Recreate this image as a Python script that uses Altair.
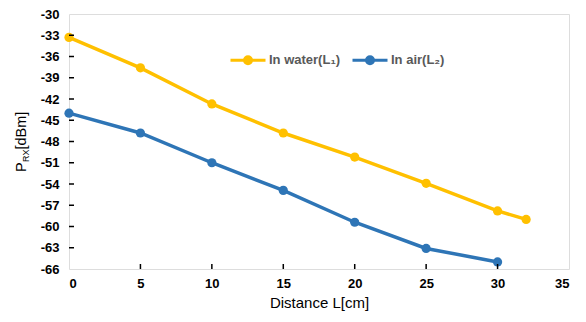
import altair as alt
import pandas as pd

distance_water = [0, 5, 10, 15, 20, 25, 30, 32]
water = [-33.3, -37.6, -42.7, -46.8, -50.2, -53.9, -57.8, -59.0]
distance_air = [0, 5, 10, 15, 20, 25, 30]
air = [-44.0, -46.8, -51.0, -54.9, -59.4, -63.1, -65.0]
series_names = ["In water(L\u2081)", "In air(L\u2082)"]
colors = ["#FFC000", "#2E75B6"]
x_ticks = [0, 5, 10, 15, 20, 25, 30, 35]
y_ticks = list(range(-66, -29, 3))

rows = []
for d, v in zip(distance_water, water):
    rows.append({"d": d, "v": v, "s": series_names[0]})
for d, v in zip(distance_air, air):
    rows.append({"d": d, "v": v, "s": series_names[1]})
df = pd.DataFrame(rows)

W, H = 500, 255
font = "Liberation Sans"

xs = alt.Scale(domain=[0, 35], nice=False, zero=False)
ys = alt.Scale(domain=[-66, -30], nice=False, zero=False)
cs = alt.Scale(domain=series_names, range=colors)

legend = alt.Legend(
    title=None, orient="none", legendX=160, legendY=27, direction="horizontal",
    symbolType="M-1,0H1M-0.2,0A0.2,0.2,0,1,1,0.2,0A0.2,0.2,0,1,1,-0.2,0",
    symbolSize=1225, symbolStrokeWidth=3, labelFont=font, labelFontSize=13,
    labelColor="#595959", labelFontWeight="bold", columnPadding=5, symbolOffset=0,
    labelOffset=2, padding=0,
)

label_expr = "replace(datum.label, '\u2212', '-')"

x_axis = alt.Axis(values=x_ticks, title="Distance L[cm]", ticks=False,
    labelFont=font, labelFontSize=13, labelFontWeight="bold", labelColor="black",
    labelPadding=8, titleFont=font, titleFontSize=15, titleFontWeight="normal",
    titlePadding=5, domain=False, grid=False, labelOverlap=False, labelExpr=label_expr)
y_axis = alt.Axis(values=y_ticks, title=None, ticks=False,
    labelFont=font, labelFontSize=13, labelFontWeight="bold", labelColor="black",
    labelPadding=10, domain=False, grid=False, labelOverlap=False,
    labelExpr=label_expr)

base = alt.Chart(df)
line = base.mark_line(strokeWidth=3.5).encode(
    x=alt.X("d:Q", scale=xs, axis=x_axis),
    y=alt.Y("v:Q", scale=ys, axis=y_axis),
    color=alt.Color("s:N", scale=cs, legend=legend, sort=series_names),
)
pts = base.mark_point(filled=True, size=85, opacity=1).encode(
    x=alt.X("d:Q", scale=xs, axis=x_axis),
    y=alt.Y("v:Q", scale=ys, axis=y_axis),
    color=alt.Color("s:N", scale=cs, legend=legend, sort=series_names),
)

xt = alt.Chart(pd.DataFrame({"t": x_ticks[1:-1]})).mark_rule(color="black", strokeWidth=1.5).encode(
    x=alt.X("t:Q", scale=xs, axis=x_axis), y=alt.value(H), y2=alt.value(H - 5))
yt = alt.Chart(pd.DataFrame({"t": y_ticks[1:-1]})).mark_rule(color="black", strokeWidth=1.5).encode(
    y=alt.Y("t:Q", scale=ys, axis=y_axis), x=alt.value(0), x2=alt.value(5))

ytitle_p = alt.Chart(pd.DataFrame({"t": ["P"]})).mark_text(
    angle=270, font=font, fontSize=14.5, align="left", baseline="middle").encode(
    text="t:N", x=alt.value(-47), y=alt.value(158))
ytitle_rx = alt.Chart(pd.DataFrame({"t": ["RX"]})).mark_text(
    angle=270, font=font, fontSize=9, align="left", baseline="middle").encode(
    text="t:N", x=alt.value(-43), y=alt.value(148))
ytitle_rest = alt.Chart(pd.DataFrame({"t": ["[dBm]"]})).mark_text(
    angle=270, font=font, fontSize=14.5, align="left", baseline="middle").encode(
    text="t:N", x=alt.value(-47), y=alt.value(135.5))

chart = alt.layer(line, pts, xt, yt, ytitle_p, ytitle_rx, ytitle_rest).properties(
    width=W, height=H,
    autosize=alt.AutoSizeParams(type="none"),
    padding={"left": 61, "top": 6, "right": 9, "bottom": 50},
).configure_view(stroke="black", strokeWidth=2).configure(background="white")

chart.save("out.html", embed_options={"renderer": "svg", "actions": False})
